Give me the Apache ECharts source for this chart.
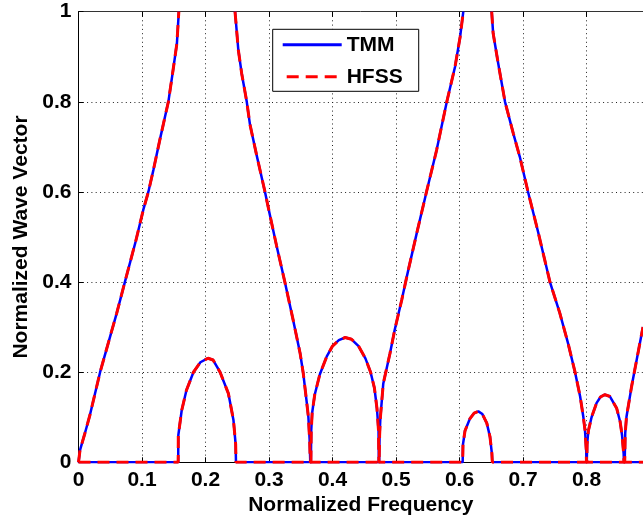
<!DOCTYPE html>
<html><head><meta charset="utf-8">
<script src="https://cdn.jsdelivr.net/npm/echarts@6/dist/echarts.min.js"></script>
<style>html,body{margin:0;padding:0;background:#fff}#c{width:643px;height:522px}</style>
</head><body><div id="c"></div>
<script>
// ---- data (normalized frequency, normalized wave vector) ----
const legendNames = ['TMM', 'HFSS'];
const xTitle = 'Normalized Frequency';
const yTitle = 'Normalized Wave Vector';

// real part, first pass band (0 -> 1)
const realBand1 = [[0,0],[0.0024,0.027],[0.010,0.064],[0.018,0.105],[0.034,0.2],[0.05,0.28],[0.06,0.33],[0.073,0.4],[0.09,0.49],[0.102,0.56],[0.110,0.6],[0.118,0.649],[0.128,0.715],[0.1415,0.8],[0.149,0.871],[0.155,0.93],[0.158,1.0]];
// real part, second and third pass bands (1 -> 0, stop band at 0, 0 -> 1)
const realBand2 = [[0.2465,1.0],[0.2517,0.915],[0.257,0.863],[0.265,0.8],[0.270,0.75],[0.28,0.685],[0.2937,0.6],[0.302,0.545],[0.312,0.48],[0.325,0.4],[0.338,0.316],[0.349,0.242],[0.354,0.197],[0.359,0.138],[0.362,0.101],[0.364,0.05],[0.365,0],[0.4735,0],[0.4742,0.06],[0.4755,0.101],[0.480,0.175],[0.4906,0.242],[0.498,0.294],[0.509,0.36],[0.517,0.412],[0.5326,0.508],[0.548,0.6],[0.564,0.693],[0.580,0.8],[0.593,0.878],[0.601,0.944],[0.606,1.0]];
// real part, fourth and fifth pass bands
const realBand3 = [[0.6507,1.0],[0.653,0.952],[0.661,0.885],[0.6717,0.8],[0.6847,0.73],[0.695,0.678],[0.708,0.6],[0.724,0.51],[0.7425,0.4],[0.758,0.331],[0.771,0.264],[0.782,0.2],[0.790,0.146],[0.795,0.101],[0.7976,0.072],[0.7995,0.03],[0.800,0],[0.8602,0],[0.861,0.064],[0.863,0.101],[0.871,0.168],[0.879,0.227],[0.887,0.286],[0.889,0.3]];
// imaginary part (attenuation in stop bands)
const imagPart = [[0,0],[0.157,0],[0.1572,0.06],[0.1625,0.115],[0.170,0.16],[0.181,0.2],[0.192,0.222],[0.204,0.231],[0.212,0.227],[0.223,0.2],[0.236,0.153],[0.244,0.094],[0.2475,0.04],[0.248,0],
  [0.366,0],[0.3665,0.07],[0.368,0.11],[0.372,0.15],[0.38,0.195],[0.391,0.235],[0.40,0.258],[0.41,0.271],[0.42,0.277],[0.43,0.273],[0.441,0.258],[0.452,0.23],[0.46,0.2],[0.466,0.165],[0.47,0.12],[0.4725,0.07],[0.473,0],
  [0.605,0],[0.6055,0.04],[0.6087,0.07],[0.6165,0.097],[0.623,0.109],[0.6297,0.113],[0.636,0.107],[0.643,0.087],[0.648,0.057],[0.651,0.02],[0.6517,0],
  [0.8005,0],[0.801,0.04],[0.803,0.07],[0.808,0.1],[0.816,0.132],[0.822,0.145],[0.829,0.15],[0.837,0.146],[0.8475,0.12],[0.853,0.09],[0.856,0.06],[0.8585,0.02],[0.859,0],[0.889,0]];
const curves = [realBand1, realBand2, realBand3, imagPart];

const FONT = "'Liberation Sans', Arial, sans-serif";
const chart = echarts.init(document.getElementById('c'), null, {renderer: 'canvas'});

const series = [];
curves.forEach(d => series.push({
  name: legendNames[0], type: 'line', data: d, showSymbol: false, symbol: 'none',
  lineStyle: {color: '#0000ff', width: 2.5, type: 'solid'}, itemStyle: {color: '#0000ff'}, z: 3, animation: false
}));
curves.forEach(d => series.push({
  name: legendNames[1], type: 'line', data: d, showSymbol: false, symbol: 'none',
  lineStyle: {color: '#ff0000', width: 3, type: [12, 7]}, itemStyle: {color: '#ff0000'}, z: 4, animation: false
}));

// legend line samples (solid and dashed), 59 px wide, 3 px tall
const solidIcon = 'path://M0,0H59V3H0Z';
const dashIcon = 'path://M0,1.5L0.01,1.5M4,0H16V3H4ZM23,0H35V3H23ZM42,0H54V3H42ZM59,1.5L58.99,1.5';

const option = {
  animation: false,
  backgroundColor: '#fff',
  grid: {left: 78.5, top: 11.7, right: 0, bottom: 59.7, containLabel: false},
  legend: {
    show: true,
    data: [{name: legendNames[0], icon: solidIcon}, {name: legendNames[1], icon: dashIcon}],
    orient: 'vertical', left: 272.7, top: 29.3,
    padding: [5, 16, 4, 10], itemWidth: 59, itemHeight: 3, itemGap: 11,
    backgroundColor: '#fff', borderColor: '#000', borderWidth: 1, z: 10,
    itemStyle: {borderWidth: 0},
    textStyle: {fontFamily: FONT, fontWeight: 'bold', fontSize: 21, color: '#000'}
  },
  xAxis: [{
    type: 'value', min: 0, max: 0.889, interval: 0.1,
    name: xTitle, nameLocation: 'middle', nameGap: 28,
    nameTextStyle: {fontFamily: FONT, fontWeight: 'bold', fontSize: 21, color: '#000'},
    axisLine: {show: true, onZero: false, lineStyle: {color: '#000', width: 1}},
    axisTick: {show: true, inside: true, length: 5, lineStyle: {color: '#000'}},
    axisLabel: {fontFamily: FONT, fontWeight: 'bold', fontSize: 21, color: '#000', margin: 7, showMaxLabel: false},
    splitLine: {show: true, lineStyle: {color: '#222', width: 1, type: [1, 3.3]}}
  }, {
    type: 'value', min: 0, max: 0.889, interval: 0.1, position: 'top',
    axisLine: {show: true, onZero: false, lineStyle: {color: '#333', width: 1}},
    axisTick: {show: true, inside: true, length: 5, lineStyle: {color: '#000'}},
    axisLabel: {show: false}, splitLine: {show: false}
  }],
  yAxis: [{
    type: 'value', min: 0, max: 1, interval: 0.2,
    name: yTitle, nameLocation: 'middle', nameGap: 41,
    nameTextStyle: {fontFamily: FONT, fontWeight: 'bold', fontSize: 21, color: '#000'},
    axisLine: {show: true, onZero: false, lineStyle: {color: '#000', width: 1}},
    axisTick: {show: true, inside: true, length: 5, lineStyle: {color: '#000'}},
    axisLabel: {fontFamily: FONT, fontWeight: 'bold', fontSize: 21, color: '#000', margin: 7},
    splitLine: {show: true, lineStyle: {color: '#222', width: 1, type: [1, 3.3]}}
  }],
  series: series
};
chart.setOption(option);
</script></body></html>
